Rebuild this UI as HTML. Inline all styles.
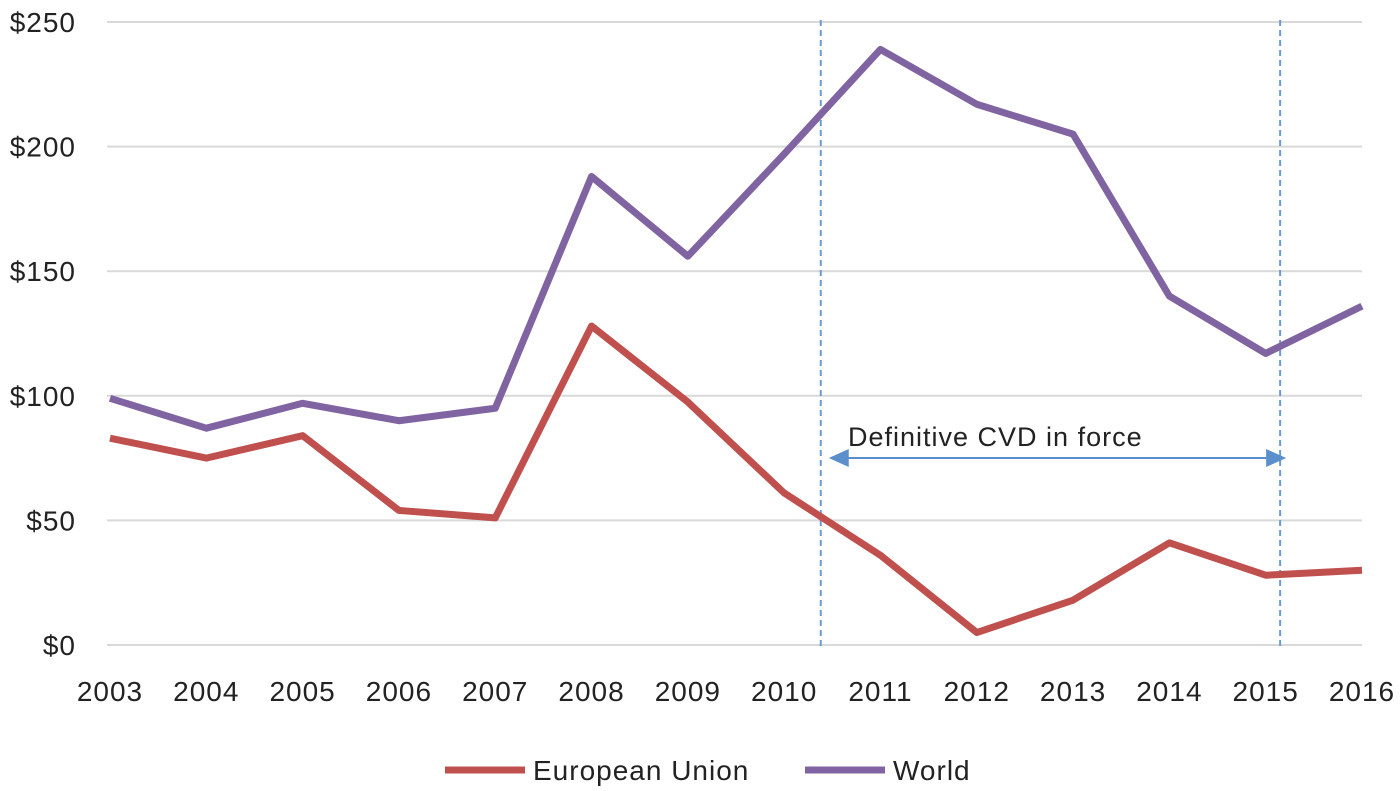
<!DOCTYPE html>
<html><head><meta charset="utf-8"><style>
html,body{margin:0;padding:0;background:#fff;}
svg{display:block;font-family:"Liberation Sans",sans-serif;}
text{letter-spacing:1px;}
</style></head><body>
<svg id="chart" width="1400" height="791" viewBox="0 0 1400 791">
<g id="grid"></g>
<g id="yaxis"></g>
<g id="xaxis"></g>
<g id="annot"></g>
<g id="series"></g>
<g id="legend"></g>
</svg>
<script>
const years = [2003,2004,2005,2006,2007,2008,2009,2010,2011,2012,2013,2014,2015,2016];
const euValues = [83,75,84,54,51,128,97.5,61,36,5,18,41,28,30];
const worldValues = [99,87,97,90,95,188,156,197,239,217,205,140,117,136];
const yTicks = [0,50,100,150,200,250];
const yTickLabels = ["$0","$50","$100","$150","$200","$250"];
const cvdStart = 2010.38;
const cvdEnd = 2015.15;
const cvdLabel = "Definitive CVD in force";

const NS="http://www.w3.org/2000/svg";
const x0=110,x1=1362,yBase=645,yTop=22;
function xs(v){return x0+(v-years[0])*(x1-x0)/(years[years.length-1]-years[0]);}
function ys(v){return yBase-(v-0)*(yBase-yTop)/250;}
function mk(tag,attrs,parent,text){const e=document.createElementNS(NS,tag);for(const k in attrs)e.setAttribute(k,attrs[k]);if(text!==undefined)e.textContent=text;parent.appendChild(e);return e;}

const grid=document.getElementById('grid'),yax=document.getElementById('yaxis'),xax=document.getElementById('xaxis');
yTicks.forEach((t,i)=>{
  const l=mk('line',{x1:107,x2:1362,y1:ys(t),y2:ys(t),stroke:'#d9d9d9','stroke-width':2},grid);
  
  
  const tx=mk('text',{x:76,y:ys(t)+10,'text-anchor':'end','font-size':28,fill:'#222'},yax,yTickLabels[i]);
  
  
});
years.forEach(y=>{
  const tx=mk('text',{x:xs(y),y:701,'text-anchor':'middle','font-size':28,fill:'#222'},xax,String(y));
  
  
});

const an=document.getElementById('annot');
[cvdStart,cvdEnd].forEach(v=>{
  const l=mk('line',{x1:xs(v),x2:xs(v),y1:20,y2:646,stroke:'#6b9bd2','stroke-width':2,'stroke-dasharray':'6,4'},an);
  
  
});
const ay=458,ax1=xs(cvdStart)+8,ax2=xs(cvdEnd)+6;
const al=mk('line',{x1:ax1+18,x2:ax2-18,y1:ay,y2:ay,stroke:'#5b8fcc','stroke-width':2},an);


mk('polygon',{points:`${ax1},${ay} ${ax1+20},${ay-9} ${ax1+20},${ay+9}`,fill:'#5b8fcc'},an);
mk('polygon',{points:`${ax2},${ay} ${ax2-20},${ay-9} ${ax2-20},${ay+9}`,fill:'#5b8fcc'},an);
const at=mk('text',{x:848,y:446,'font-size':27,fill:'#222'},an,cvdLabel);



const ser=document.getElementById('series');
function line(vals,color,name){
  const p=mk('polyline',{points:vals.map((v,i)=>xs(years[i])+','+ys(v)).join(' '),fill:'none',stroke:color,'stroke-width':7,'stroke-linejoin':'round'},ser);
  
  
}
line(worldValues,'#8064a2','world-line');
line(euValues,'#c0504d','eu-line');

const lg=document.getElementById('legend');
[[445,'#c0504d','European Union'],[805,'#8064a2','World']].forEach(([x,c,t])=>{
  const g=mk('g',{},lg);
  
  
  mk('line',{x1:x,x2:x+80,y1:770,y2:770,stroke:c,'stroke-width':7},g);
  mk('text',{x:x+88,y:780,'font-size':28,fill:'#222'},g,t);
});
</script>
</body></html>
